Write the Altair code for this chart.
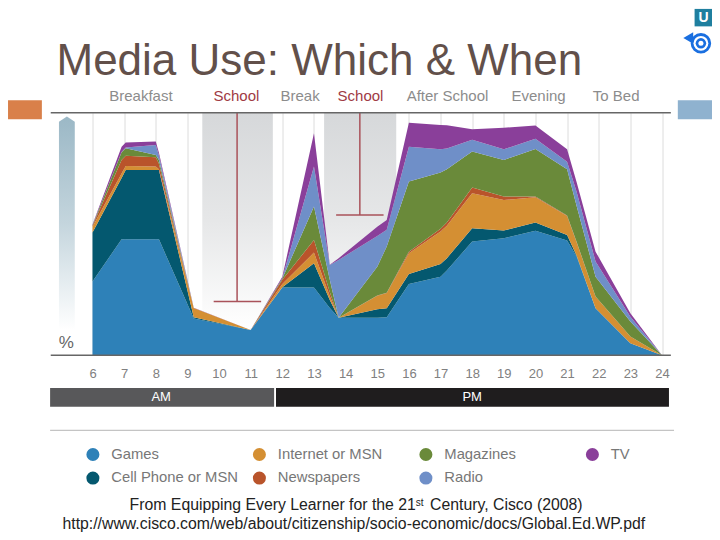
import altair as alt
import pandas as pd

hours = [6, 6.92, 7.05, 8, 8.1, 9.2, 11, 12, 13, 13.5, 13.78, 15, 15.3, 16, 17, 17.2, 18, 19, 20, 21, 21.3, 21.9, 23, 24]
games = [30.4, 47.8, 47.8, 47.8, 47.8, 15.1, 10.4, 27.9, 27.9, 19.5, 15.4, 15.4, 15.7, 29.4, 32.4, 34.9, 46.9, 48.2, 51.3, 47.3, 40.7, 19.4, 4.9, 0]
cell = [50.6, 73.1, 76.4, 76.4, 76.4, 15.7, 10.4, 28.0, 37.9, 22.8, 15.4, 19.0, 19.4, 33.5, 37.6, 40.0, 52.4, 51.4, 54.7, 49.6, 41.1, 19.4, 4.9, 0]
internet = [53.0, 74.9, 78.0, 77.8, 76.7, 19.5, 10.4, 29.4, 42.3, 24.3, 15.4, 24.5, 25.6, 42.0, 51.0, 53.4, 66.8, 64.0, 65.1, 57.4, 46.6, 24.2, 7.7, 0]
news = [53.4, 80.5, 82.2, 81.6, 78.9, 19.5, 10.4, 31.1, 47.5, 26.1, 15.4, 24.6, 25.8, 42.7, 52.1, 54.7, 69.2, 65.4, 65.4, 57.6, 46.8, 24.2, 7.7, 0]
mags = [53.6, 83.7, 85.3, 82.6, 80.5, 19.5, 10.4, 31.6, 61.3, 31.1, 15.4, 36.5, 44.8, 71.6, 75.3, 76.7, 84.0, 80.5, 85.0, 76.7, 61.6, 32.4, 13.9, 0]
radio = [53.7, 83.8, 85.6, 86.7, 82.4, 19.5, 10.4, 31.7, 77.8, 37.2, 39.3, 49.2, 51.7, 86.0, 84.9, 85.2, 88.8, 84.9, 89.3, 79.8, 67.4, 38.6, 15.9, 0]
tv = [53.9, 86.0, 87.7, 88.1, 83.5, 19.6, 10.4, 32.4, 91.5, 37.3, 40.0, 53.0, 55.8, 95.9, 94.9, 94.8, 93.2, 93.8, 94.7, 84.9, 71.4, 42.7, 17.3, 0]

series_names = ["Games", "Cell Phone or MSN", "Internet or MSN", "Newspapers", "Magazines", "Radio", "TV"]
series_tops = [games, cell, internet, news, mags, radio, tv]
series_colors = ["#2e81b8", "#04586f", "#d48f33", "#b9542b", "#6a8a3a", "#6f8fc8", "#8a3f9a"]
hour_ticks = list(range(6, 25))

rows = []
for i, (name, top) in enumerate(zip(series_names, series_tops)):
    low = series_tops[i - 1] if i else [0] * len(hours)
    for h, t, b in zip(hours, top, low):
        rows.append({"hour": h, "top": t, "low": b, "series": name, "rank": i})
areas_df = pd.DataFrame(rows)

FONT = "Liberation Sans"
X = alt.Scale(domain=[6, 24], nice=False, zero=False)
Y = alt.Scale(domain=[0, 100], nice=False, zero=False)
AX = alt.Axis(
    values=hour_ticks, format="d", grid=True, gridColor="#dcdcdc", gridWidth=1,
    domain=False, ticks=False, labelPadding=12, labelFontSize=13, labelFont=FONT,
    labelColor="#808080", labelFlush=False, labelOverlap=False, orient="bottom", title=None)
xq = lambda f: alt.X(f, type="quantitative", scale=X, axis=AX, title=None)
yq = lambda f: alt.Y(f, type="quantitative", scale=Y, axis=None)


def rects(records, color):
    return alt.Chart(pd.DataFrame(records)).mark_rect(color=color).encode(
        x=xq("a"), x2="b", y=yq("lo"), y2="hi"
    )


def rules(records, color, width):
    return alt.Chart(pd.DataFrame(records)).mark_rule(color=color, strokeWidth=width).encode(
        x=xq("a"), x2="b", y=yq("v")
    )


def vrules(records, color, width):
    return alt.Chart(pd.DataFrame(records)).mark_rule(color=color, strokeWidth=width).encode(
        x=xq("a"), y=yq("lo"), y2="hi"
    )


def texts(records, **kw):
    return alt.Chart(pd.DataFrame(records)).mark_text(font=FONT, **kw).encode(
        x=xq("h"), y=yq("v"), text="t:N"
    )


def grad(stops):
    return alt.LinearGradient(
        gradient="linear", x1=0, x2=0, y1=0, y2=1,
        stops=[alt.GradientStop(color=c, offset=o) for c, o in stops],
    )


bands = alt.Chart(pd.DataFrame({
    "a": [9.47, 13.32], "b": [11.7, 15.6], "lo": [11, 11], "hi": [100, 100]
})).mark_rect(color=grad([("#d6d8da", 0), ("#e6e7e8", 0.5), ("#ffffff", 1)])).encode(
    x=xq("a"), x2="b", y=yq("lo"), y2="hi"
)

areas = alt.Chart(areas_df).mark_area(interpolate="linear", opacity=1).encode(
    x=xq("hour"),
    y=yq("top"),
    y2="low:Q",
    order=alt.Order("rank:Q"),
    color=alt.Color("series:N", scale=alt.Scale(domain=series_names, range=series_colors), legend=alt.Legend(
        title=None, orient="none", legendX=-7, legendY=334, direction="vertical", columns=4,
        gridAlign="all", symbolType="circle", symbolSize=170, symbolStrokeWidth=0, symbolOpacity=1,
        labelFont=FONT, labelFontSize=14.8, labelColor="#777777", labelOffset=11, labelLimit=200,
        columnPadding=13.5, rowPadding=8)),
)

arrow = alt.Chart(pd.DataFrame({
    "h": [4.94, 5.19, 5.44], "v": [96.3, 98.4, 96.3], "lo": [10.4, 10.4, 10.4]
})).mark_area(color=grad([("#9bb8c6", 0), ("#c4d5dd", 0.5), ("#ffffff", 1)])).encode(
    x=xq("h"), y=yq("v"), y2="lo"
)

school_c = "#a9525a"
school = vrules([{"a": 10.57, "lo": 22.1, "hi": 100}, {"a": 14.45, "lo": 57.8, "hi": 100}], school_c, 1.5)
school_bars = rules([{"a": 9.83, "b": 11.33, "v": 22.1}, {"a": 13.7, "b": 15.2, "v": 57.8}], school_c, 1.5)

frame = rules([{"a": 4.68, "b": 24.28, "v": 100}, {"a": 4.68, "b": 24.28, "v": 0}], "#666666", 1.5)
sep = rules([{"a": 4.66, "b": 24.38, "v": -31}], "#c4c4c4", 1.2)

top_gray = texts([
    {"h": 7.53, "v": 106.8, "t": "Breakfast"},
    {"h": 12.56, "v": 106.8, "t": "Break"},
    {"h": 17.22, "v": 106.8, "t": "After School"},
    {"h": 20.1, "v": 106.8, "t": "Evening"},
    {"h": 22.55, "v": 106.8, "t": "To Bed"},
], fontSize=15, color="#8c8c8c", align="center", baseline="middle")
top_red = texts([
    {"h": 10.55, "v": 106.8, "t": "School"},
    {"h": 14.47, "v": 106.8, "t": "School"},
], fontSize=15, color="#a03a44", align="center", baseline="middle", fontWeight=500)

pct = texts([{"h": 5.17, "v": 5.0, "t": "%"}], fontSize=17, color="#666666", align="center", baseline="middle")

am = rects([{"a": 4.66, "b": 11.74, "lo": -21.3, "hi": -13.5}], "#58585a")
pm = rects([{"a": 11.8, "b": 24.22, "lo": -21.3, "hi": -13.5}], "#1f1d1e")
ampm = texts([{"h": 8.17, "v": -17.4, "t": "AM"}, {"h": 18.0, "v": -17.4, "t": "PM"}],
             fontSize=13, color="#ffffff", align="center", baseline="middle")

side_o = rects([{"a": 3.33, "b": 4.4, "lo": 97.3, "hi": 105.1}], "#d9804a")
side_b = rects([{"a": 24.5, "b": 25.58, "lo": 97.3, "hi": 105.1}], "#8fb2cf")

foot1 = texts([{"h": 16.22, "v": -61.8, "t": "From Equipping Every Learner for the 21"}],
              fontSize=15.8, color="#222222", align="right", baseline="middle")
foot_s = texts([{"h": 16.22, "v": -60.8, "t": "st"}], fontSize=10, color="#222222", align="left", baseline="middle")
foot2 = texts([{"h": 16.67, "v": -61.8, "t": "Century, Cisco (2008)"}],
              fontSize=15.8, color="#222222", align="left", baseline="middle")
foot3 = texts([{"h": 14.26, "v": -69.6, "t": "http://www.cisco.com/web/about/citizenship/socio-economic/docs/Global.Ed.WP.pdf"}],
              fontSize=15.8, color="#222222", align="center", baseline="middle")

logo_sq = rects([{"a": 25.03, "b": 25.58, "lo": 135.6, "hi": 142.8}], "#1f7f9f")
logo_u = texts([{"h": 25.31, "v": 139.2, "t": "U"}], fontSize=14, color="#ffffff", align="center",
               baseline="middle", fontWeight="bold")


def dot(h, v, size, color, shape="circle"):
    return alt.Chart(pd.DataFrame({"h": [h], "v": [v]})).mark_point(
        filled=True, size=size, color=color, opacity=1, shape=shape
    ).encode(x=xq("h"), y=yq("v"))


logo_t = (
    dot(24.83, 130.8, 130, "#1a6fe0", "triangle-left")
    + dot(25.23, 128.6, 420, "#1a6fe0")
    + dot(25.23, 128.6, 220, "#ffffff")
    + dot(25.23, 128.6, 110, "#1a6fe0")
    + dot(25.23, 128.6, 25, "#ffffff")
)

chart = alt.layer(
    bands, areas, arrow, school, school_bars, frame, sep, top_gray, top_red, pct,
    am, pm, ampm, side_o, side_b, foot1, foot_s, foot2, foot3, logo_sq, logo_u, logo_t,
).properties(
    width=569.5,
    height=242.5,
    padding={"left": 84.5, "top": 104.7, "right": 50, "bottom": 176.8},
    autosize=alt.AutoSizeParams(type="none"),
    title=alt.TitleParams(
        "Media Use: Which & When", anchor="start", dx=-36, offset=0, dy=75, fontSize=44,
        font=FONT, fontWeight="normal", color="#62504a", frame="group",
    ),
).configure(background="white", view=alt.ViewConfig(stroke=None))

chart.save("out.html", embed_options={"renderer": "svg", "actions": False})
